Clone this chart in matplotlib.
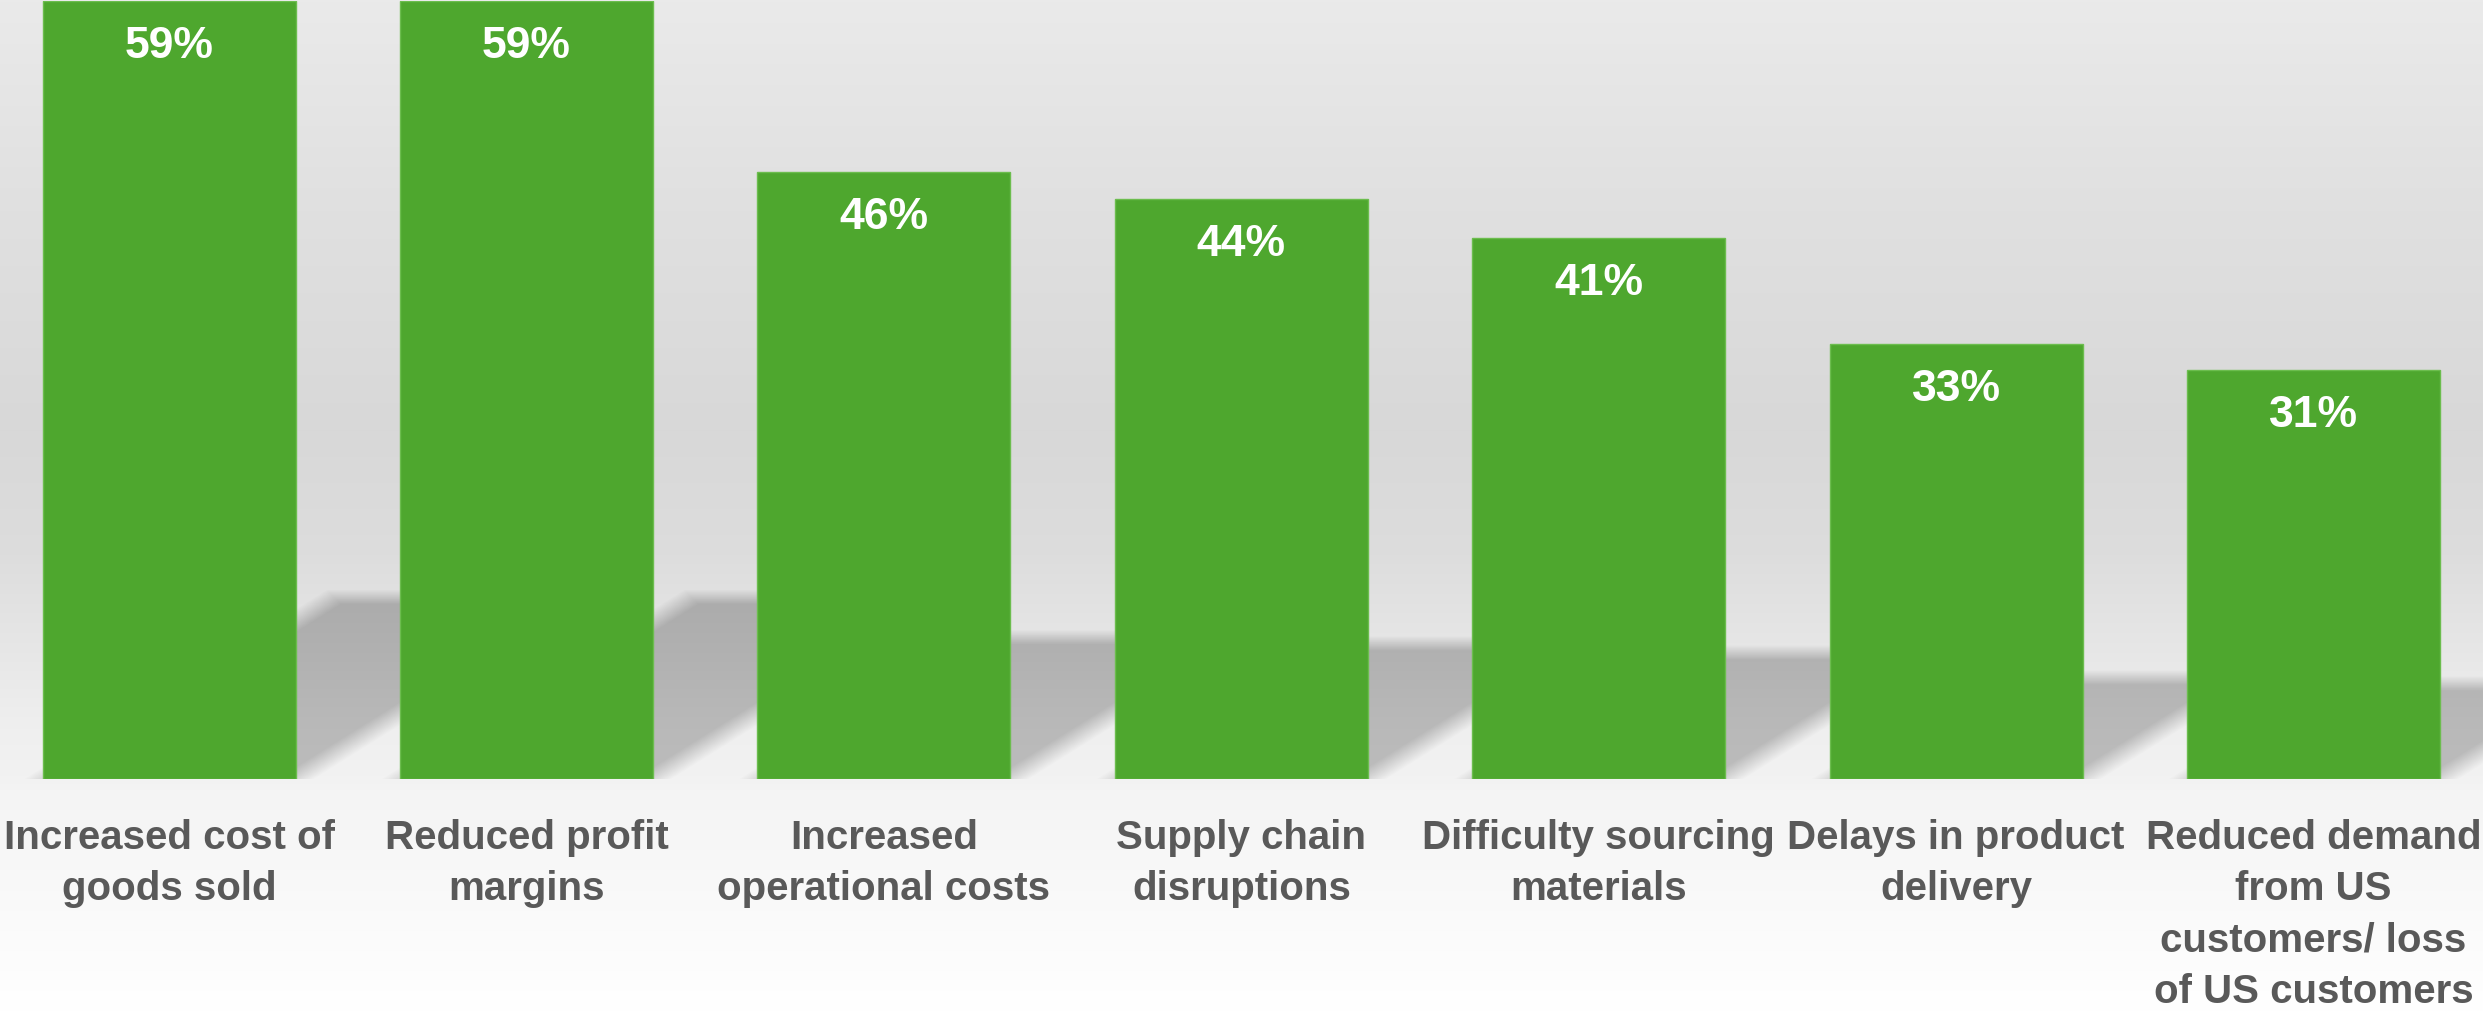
import numpy as np
import matplotlib
matplotlib.use("Agg")
import matplotlib.pyplot as plt
from matplotlib.patches import Polygon

# data
categories = [
    "Increased cost of\ngoods sold",
    "Reduced profit\nmargins",
    "Increased\noperational costs",
    "Supply chain\ndisruptions",
    "Difficulty sourcing\nmaterials",
    "Delays in product\ndelivery",
    "Reduced demand\nfrom US\ncustomers/ loss\nof US customers",
]
values = [59, 59, 46, 44, 41, 33, 31]

bar_color = "#4ea72e"
label_color = "#595959"
plt.rcParams["font.family"] = ["Liberation Sans", "DejaVu Sans"]

W, H = 2483, 1011
fig = plt.figure(figsize=(W / 100, H / 100), dpi=100)

# background: grey wall fading into a light floor
bg = fig.add_axes([0, 0, 1, 1], zorder=0)
rows = np.arange(H)
stops_y = [0, 200, 430, 550, 650, 720, 779, 790, 1011]
stops_g = [0.918, 0.88, 0.847, 0.865, 0.905, 0.935, 0.950, 0.957, 1.0]
grey = np.interp(rows, stops_y, stops_g)
img = np.repeat(grey[:, None], 4, axis=1)
img = np.dstack([img, img, img])
bg.imshow(img, aspect="auto", extent=(0, 1, 0, 1), interpolation="bilinear")
bg.set_axis_off()

ax = fig.add_axes([0, (H - 779) / H, 1, 778 / H], zorder=1)
ax.patch.set_alpha(0)
x = np.arange(len(values))
ax.set_xlim(-0.473, 6.474)
ax.set_ylim(0, max(values))

# pixel scale of the data axes
p0 = ax.transData.transform((0, 0))
px_x = ax.transData.transform((1, 0))[0] - p0[0]
px_y = ax.transData.transform((0, 1))[1] - p0[1]

# soft perspective shadow behind each bar
width = 0.708
shadow_ratio = 0.234
slope = 1.6
n_layers = 18
a = 1 - (1 - 0.19) ** (1 / n_layers)
for xi, v in zip(x, values):
    h = shadow_ratio * v * px_y
    x0 = (xi - width / 2) * px_x
    x1 = (xi + width / 2) * px_x
    for t in np.linspace(-1, 1, n_layers):
        mt = 7 * t
        ms = 18 * t
        hh = h - mt
        d = slope * hh
        pts = [(x0 + ms, 0), (x1 - ms, 0), (x1 - ms + d, hh), (x0 + ms + d, hh)]
        pts = [(px / px_x, py / px_y) for px, py in pts]
        ax.add_patch(Polygon(pts, closed=True, facecolor="black", edgecolor="none",
                             alpha=a, zorder=2))

ax.bar(x, values, width=width, color=bar_color, edgecolor="#6cbd4e",
       linewidth=1, zorder=3)

for xi, v in zip(x, values):
    ax.annotate(f"{v}%", xy=(xi, v), xytext=(0, -41), textcoords="offset points",
                ha="center", va="baseline", color="white", fontsize=32,
                fontweight="bold", zorder=4)

ax.set_xticks(x)
ax.set_xticklabels(categories, fontsize=29, fontweight="bold", color=label_color,
                   linespacing=1.44)
ax.tick_params(axis="x", length=0, pad=29)
ax.set_yticks([])
for s in ax.spines.values():
    s.set_visible(False)

fig.savefig("out.png", dpi=100)
